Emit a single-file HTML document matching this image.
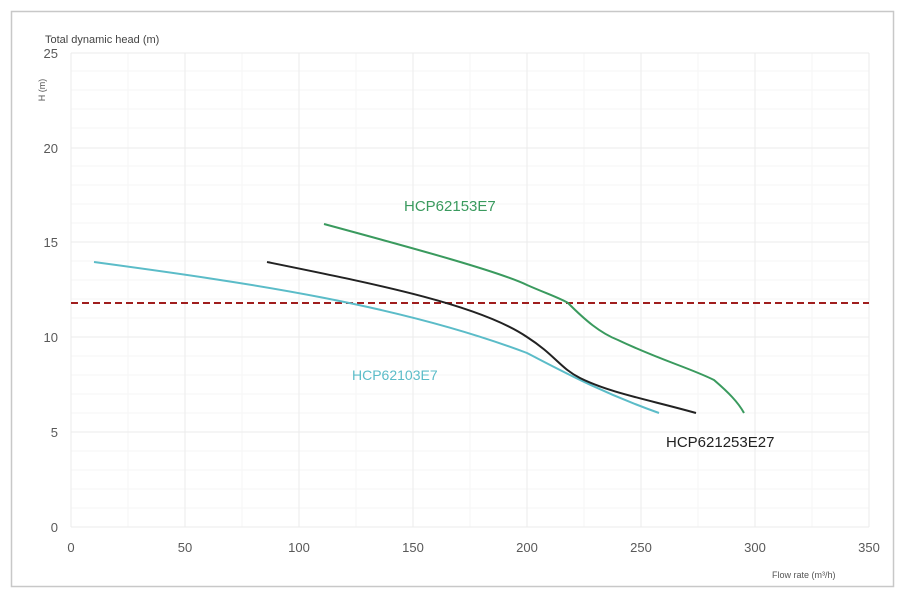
<!DOCTYPE html>
<html><head><meta charset="utf-8"><style>
body{margin:0;background:#fff;}
svg{display:block;font-family:"Liberation Sans",sans-serif;}
</style></head><body>
<svg width="900" height="595" viewBox="0 0 900 595">
<rect x="11.5" y="11.5" width="882" height="575" fill="#fff" stroke="#c8c8c8" stroke-width="1.5"/>
<g stroke="#f6f6f6" stroke-width="1">
<path d="M128,53V527M242,53V527M356,53V527M470,53V527M584,53V527M698,53V527M812,53V527"/>
<path d="M71,508H869M71,489H869M71,470H869M71,451H869M71,413H869M71,394H869M71,375H869M71,356H869M71,318H869M71,299H869M71,280H869M71,261H869M71,223H869M71,204H869M71,185H869M71,166H869M71,128H869M71,109H869M71,90H869M71,71H869"/>
</g>
<g stroke="#ebebeb" stroke-width="1">
<path d="M71,53V527M185,53V527M299,53V527M413,53V527M527,53V527M641,53V527M755,53V527M869,53V527"/>
<path d="M71,53H869M71,148H869M71,242H869M71,337H869M71,432H869M71,527H869"/>
</g>
<g font-size="13" fill="#595959" text-anchor="end">
<text x="58" y="58">25</text><text x="58" y="153">20</text><text x="58" y="247">15</text>
<text x="58" y="342">10</text><text x="58" y="437">5</text><text x="58" y="532">0</text>
</g>
<g font-size="13" fill="#595959" text-anchor="middle">
<text x="71" y="552">0</text><text x="185" y="552">50</text><text x="299" y="552">100</text>
<text x="413" y="552">150</text><text x="527" y="552">200</text><text x="641" y="552">250</text>
<text x="755" y="552">300</text><text x="869" y="552">350</text>
</g>
<text x="45" y="43" font-size="11" fill="#444">Total dynamic head (m)</text>
<text transform="translate(45,90) rotate(-90)" font-size="9" fill="#555" text-anchor="middle">H (m)</text>
<text x="772" y="578" font-size="9" fill="#555">Flow rate (m³/h)</text>
<line x1="71" y1="303" x2="869" y2="303" stroke="#a01e1e" stroke-width="2" stroke-dasharray="7,4"/>
<path d="M94,262 C250,283 400,305 527,353 C560,370 600,392 659,413" fill="none" stroke="#5bbcc8" stroke-width="2"/>
<path d="M267,262 C380,285 480,305 527,337 C555,355 560,368 580,378 C610,393 650,400 696,413" fill="none" stroke="#222" stroke-width="2"/>
<path d="M324,224 C420,250 500,272 527,285 C545,293 560,298 568,303 C585,320 600,333 618,340 C660,360 690,368 714,380 C728,392 738,402 744,413" fill="none" stroke="#3a9a5e" stroke-width="2"/>
<text x="404" y="211" font-size="15" fill="#3a9a5e">HCP62153E7</text>
<text x="352" y="380" font-size="14" fill="#5bbcc8">HCP62103E7</text>
<text x="666" y="447" font-size="15" fill="#222">HCP621253E27</text>
</svg>
</body></html>
